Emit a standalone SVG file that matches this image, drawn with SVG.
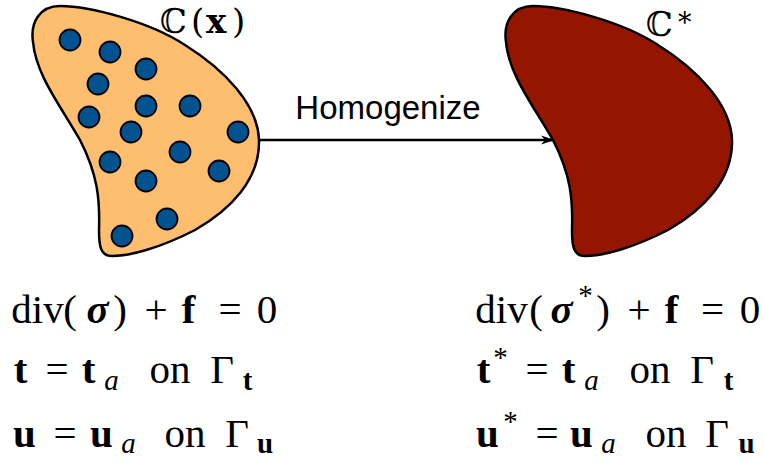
<svg xmlns="http://www.w3.org/2000/svg" width="764" height="462" viewBox="0 0 764 462">
<defs>
<path id="blob" d="M 33,42 C 30,22 40,6 60,6 C 90,6 150,22 185,45 C 225,70 258,105 259,140 C 260,180 230,210 195,230 C 160,248 130,256 112,256 C 100,256 99,245 99,230 C 100,200 98,175 80,140 C 60,105 36,75 33,42 Z"/>
<marker id="arr" markerWidth="14" markerHeight="10" refX="13" refY="5" orient="auto" markerUnits="userSpaceOnUse">
<path d="M0,0.5 L14,5 L0,9.5 L4,5 Z" fill="#000"/>
</marker>
</defs>
<style>
.shape{stroke:#000;stroke-width:2.5}
.inc{fill:#02528f;stroke:#000;stroke-width:1.8}
.m{font-family:"Liberation Serif","DejaVu Serif",serif;font-size:41px;fill:#000}
.b{font-weight:bold}
.i{font-style:italic}
.s{font-size:29px}
.c{font-family:"DejaVu Serif","Liberation Serif",serif;font-size:34px;fill:#000}
.lbl{font-family:"Liberation Sans",Arial,sans-serif;font-size:33px;fill:#000}
</style>
<g id="heterogeneous">
<use href="#blob" class="shape" fill="#fdbf6f"/>
<g>
<circle class="inc" cx="70" cy="40" r="10.5"/>
<circle class="inc" cx="110" cy="52" r="10.5"/>
<circle class="inc" cx="146" cy="69" r="10.5"/>
<circle class="inc" cx="98" cy="84" r="10.5"/>
<circle class="inc" cx="146" cy="106" r="10.5"/>
<circle class="inc" cx="190" cy="106" r="10.5"/>
<circle class="inc" cx="89" cy="117" r="10.5"/>
<circle class="inc" cx="131" cy="132" r="10.5"/>
<circle class="inc" cx="238" cy="132" r="10.5"/>
<circle class="inc" cx="180" cy="152" r="10.5"/>
<circle class="inc" cx="110" cy="162" r="10.5"/>
<circle class="inc" cx="219" cy="171" r="10.5"/>
<circle class="inc" cx="146" cy="181" r="10.5"/>
<circle class="inc" cx="167" cy="219" r="10.5"/>
<circle class="inc" cx="122" cy="236" r="10.5"/>
</g>
<text class="c" x="160" y="33">ℂ<tspan x="191">(</tspan><tspan x="206" class="b">x</tspan><tspan x="232">)</tspan></text>
</g>
<g id="homogenized">
<use href="#blob" class="shape" fill="#941600" transform="translate(473,0)"/>
<text class="c" x="646" y="36">ℂ<tspan x="678" y="32" font-size="27">*</tspan></text>
</g>
<g id="connectors">
<line x1="260" y1="140" x2="554" y2="140" stroke="#000" stroke-width="2.5" marker-end="url(#arr)"/>
<text class="lbl" x="388" y="119" text-anchor="middle">Homogenize</text>
</g>
<g id="equations-left" text-anchor="middle">
<text class="m" y="323"><tspan x="37.5">div</tspan><tspan x="70">(</tspan><tspan x="97.5" class="b i">σ</tspan><tspan x="120">)</tspan><tspan x="156">+</tspan><tspan x="188.5" class="b">f</tspan><tspan x="230">=</tspan><tspan x="267">0</tspan></text>
<text class="m" y="383"><tspan x="20.5" class="b">t</tspan><tspan x="57">=</tspan><tspan x="88.5" class="b">t</tspan><tspan x="111.5" y="390" class="i s">a</tspan><tspan x="170" y="383">on</tspan><tspan x="222">Γ</tspan><tspan x="247.5" y="390" class="b s">t</tspan></text>
<text class="m" y="447"><tspan x="24.5" class="b">u</tspan><tspan x="65">=</tspan><tspan x="101.5" class="b">u</tspan><tspan x="128.5" y="453" class="i s">a</tspan><tspan x="185" y="447">on</tspan><tspan x="237">Γ</tspan><tspan x="265" y="453" class="b s">u</tspan></text>
</g>
<g id="equations-right" text-anchor="middle">
<text class="m" y="323"><tspan x="501.5">div</tspan><tspan x="536">(</tspan><tspan x="561.5" class="b i">σ</tspan><tspan x="585.5" y="305" class="s">*</tspan><tspan x="603" y="323">)</tspan><tspan x="639">+</tspan><tspan x="671.5" class="b">f</tspan><tspan x="712.5">=</tspan><tspan x="750">0</tspan></text>
<text class="m" y="383"><tspan x="483.5" class="b">t</tspan><tspan x="500.5" y="367" class="s">*</tspan><tspan x="537" y="383">=</tspan><tspan x="568.5" class="b">t</tspan><tspan x="591.5" y="390" class="i s">a</tspan><tspan x="650" y="383">on</tspan><tspan x="702">Γ</tspan><tspan x="728.5" y="390" class="b s">t</tspan></text>
<text class="m" y="447"><tspan x="487.5" class="b">u</tspan><tspan x="510.5" y="431" class="s">*</tspan><tspan x="547" y="447">=</tspan><tspan x="581.5" class="b">u</tspan><tspan x="608.5" y="453" class="i s">a</tspan><tspan x="666" y="447">on</tspan><tspan x="717">Γ</tspan><tspan x="746.5" y="453" class="b s">u</tspan></text>
</g>
</svg>
